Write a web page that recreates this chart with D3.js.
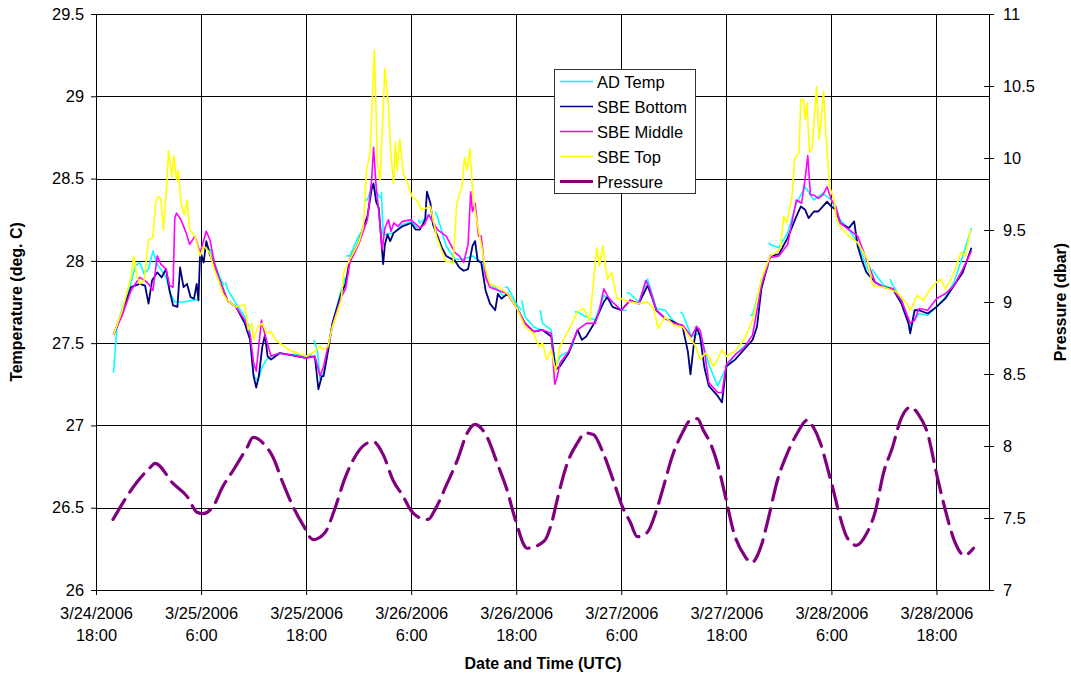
<!DOCTYPE html>
<html><head><meta charset="utf-8">
<script src="https://cdn.jsdelivr.net/npm/d3@7"></script>
<style>
body{margin:0;background:#fff;}
svg{display:block;font-family:Arial,"Liberation Sans",sans-serif;}
</style></head><body>
<svg id="c" width="1071" height="679"></svg>
<script>
// ---- data (hours after 3/24/2006 18:00 UTC) ----
const startTime = "2006-03-24T18:00:00Z";
const endHour = 102;
const xTickHours = [0,12,24,36,48,60,72,84,96];
const tempTicks = [26,26.5,27,27.5,28,28.5,29,29.5];
const pressureTicks = [7,7.5,8,8.5,9,9.5,10,10.5,11];
const seriesNames = ["AD Temp","SBE Bottom","SBE Middle","SBE Top","Pressure"];
const seriesColors = ["#00FFFF","#000080","#FF00FF","#FFFF00","#800080"];

const adTemp = [[2,27.32],[2.4,27.6],[3,27.71],[4,27.87],[4.5,27.97],[5,27.99],[5.5,27.92],[6,27.95],[6.5,28.06],[7,27.98],[8,27.9],[8.5,27.8],[9,27.75],[10,27.75],[11,27.76],[11.8,27.77],[11.9,null],[12.1,28.08],[13,28.07],[14,27.92],[14.6,27.85],[14.7,null],[14.8,27.87],[15,27.83],[16,27.74],[17,27.66],[17.5,27.6],[18,27.3],[18.5,27.27],[19,27.36],[19.5,27.4],[20,27.42],[21,27.44],[22,27.43],[23,27.43],[24,27.42],[24.7,27.43],[24.8,null],[24.9,27.52],[25.3,27.45],[25.6,27.28],[26,27.32],[27,27.62],[28,27.82],[28.5,27.9],[28.55,null],[28.6,28.03],[29,28.03],[30,28.15],[30.6,28.2],[30.65,null],[30.7,28.37],[31,28.37],[31.5,28.45],[32,28.42],[32.5,28.38],[32.55,null],[32.6,28.42],[32.8,28.16],[33,28.16],[34,28.17],[35,28.22],[36,28.24],[36.7,28.2],[36.8,null],[36.85,28.25],[37,28.23],[38,28.28],[38.6,28.22],[38.7,null],[38.75,28.3],[39,28.27],[40,28.09],[41,28.01],[42,28.01],[43,28.03],[43.8,28.0],[44,27.99],[45,27.86],[46,27.82],[46.6,27.78],[46.65,null],[46.7,27.84],[47,27.84],[48,27.74],[48.6,27.7],[48.62,null],[48.65,27.76],[49,27.66],[50,27.6],[50.7,27.58],[50.72,null],[50.75,27.7],[51,27.62],[52,27.58],[52.5,27.35],[53,27.42],[54,27.45],[54.6,27.5],[54.65,null],[54.7,27.69],[55,27.69],[56,27.66],[57,27.64],[58,27.79],[59,27.75],[60,27.7],[60.6,27.7],[60.62,null],[60.65,27.81],[61,27.8],[62,27.75],[63,27.89],[64,27.71],[65,27.7],[66,27.63],[66.7,27.6],[66.72,null],[66.75,27.69],[67,27.68],[68,27.54],[69,27.56],[70,27.37],[71,27.24],[72,27.35],[73,27.43],[74,27.48],[74.7,27.5],[74.72,null],[74.75,27.67],[75,27.67],[76,27.87],[76.8,27.97],[76.82,null],[76.85,28.11],[77,28.1],[78,28.08],[79,28.17],[80,28.35],[81,28.45],[82,28.37],[83,28.41],[84,28.37],[85,28.25],[86,28.19],[87,28.11],[88,27.97],[88.6,27.9],[88.62,null],[88.65,27.95],[89,27.92],[90,27.85],[90.6,27.84],[90.65,null],[90.7,27.89],[91,27.85],[92,27.77],[93,27.6],[94,27.68],[95,27.67],[96,27.72],[97,27.78],[98,27.87],[99,28.03],[100,28.2]];

const sbeBottom = [[2,27.55],[3,27.69],[4,27.84],[5,27.86],[5.6,27.85],[6,27.74],[6.4,27.88],[7,27.93],[7.5,27.9],[8,27.95],[8.4,27.82],[8.8,27.73],[9.3,27.72],[9.6,27.96],[10,27.84],[10.4,27.86],[10.8,27.78],[11.2,27.77],[11.5,27.86],[11.7,27.76],[11.9,28.06],[12.3,27.99],[12.6,28.12],[13,28.04],[13.5,27.98],[14,27.9],[15,27.76],[16,27.72],[16.5,27.67],[17,27.62],[17.6,27.52],[18,27.3],[18.3,27.23],[18.6,27.3],[19,27.48],[19.3,27.55],[19.6,27.42],[20,27.4],[21,27.44],[22,27.43],[23,27.42],[24,27.41],[25,27.42],[25.4,27.22],[25.8,27.3],[26,27.3],[26.5,27.45],[27,27.62],[28,27.8],[28.5,27.86],[29,28.01],[30,28.11],[30.5,28.2],[31,28.27],[31.5,28.44],[31.7,28.47],[32,28.36],[32.3,28.32],[32.8,27.98],[33,28.1],[33.3,28.16],[33.6,28.12],[34,28.17],[35,28.21],[36,28.23],[36.5,28.19],[37,28.19],[37.6,28.25],[37.8,28.42],[38.2,28.35],[38.5,28.22],[39,28.15],[39.5,28.08],[40,28.03],[41,28.0],[41.5,27.96],[42,27.94],[42.5,27.95],[43,28.09],[43.3,28.12],[43.6,28.0],[44,27.99],[44.5,27.82],[45,27.74],[45.6,27.7],[45.9,27.8],[46.3,27.77],[47,27.8],[48,27.72],[49,27.62],[50,27.57],[51,27.58],[51.5,27.56],[52,27.54],[52.5,27.34],[53,27.36],[54,27.44],[55,27.58],[55.5,27.52],[56,27.54],[57,27.63],[58,27.75],[58.4,27.78],[59,27.72],[60,27.7],[61,27.76],[62,27.74],[63,27.85],[63.5,27.78],[64,27.7],[65,27.65],[66,27.63],[67,27.6],[67.6,27.45],[67.9,27.31],[68.3,27.5],[68.6,27.6],[69,27.54],[69.5,27.35],[70,27.24],[71,27.18],[71.5,27.14],[72,27.36],[73,27.4],[74,27.46],[75,27.52],[75.5,27.6],[76,27.83],[77,28.03],[78,28.04],[79,28.14],[80,28.27],[80.5,28.33],[81,28.31],[81.4,28.26],[82,28.3],[82.5,28.3],[83,28.33],[83.5,28.36],[84,28.33],[84.5,28.31],[85,28.23],[86,28.2],[86.6,28.24],[87,28.09],[87.5,28.0],[88,27.93],[89,27.87],[90,27.84],[91,27.83],[92,27.74],[92.8,27.62],[93,27.56],[93.5,27.7],[94,27.7],[95,27.68],[96,27.72],[97,27.77],[98,27.85],[99,27.93],[100,28.08]];

const sbeMiddle = [[2,27.55],[3,27.67],[4,27.82],[5,27.9],[5.6,27.88],[6,27.86],[6.5,27.82],[7,28.03],[7.4,27.98],[8,27.95],[8.4,27.85],[8.8,27.84],[9.0,28.26],[9.2,28.29],[9.7,28.25],[10.3,28.17],[10.7,28.1],[11.3,28.15],[11.9,28.05],[12.6,28.18],[13,28.13],[13.6,27.97],[14,27.9],[15,27.76],[16,27.72],[17,27.64],[17.6,27.55],[18,27.38],[18.3,27.33],[18.9,27.64],[19.3,27.55],[20,27.42],[21,27.44],[22,27.43],[23,27.42],[24,27.41],[25,27.42],[25.6,27.3],[26,27.36],[27,27.6],[28,27.78],[28.5,27.83],[29,27.99],[30,28.1],[31,28.25],[31.5,28.5],[31.7,28.69],[32,28.45],[32.3,28.3],[32.7,28.07],[33,28.2],[33.4,28.25],[33.7,28.18],[34,28.23],[34.5,28.21],[35,28.24],[36,28.25],[37,28.2],[37.5,28.22],[38,28.28],[39,28.19],[40,28.15],[40.5,28.1],[41,28.05],[41.5,28.03],[42,27.99],[42.5,28.1],[42.8,28.42],[43,28.3],[43.3,28.35],[43.7,28.15],[44,28.15],[44.5,27.9],[45,27.84],[46,27.82],[47,27.8],[48,27.72],[49,27.62],[50,27.57],[51,27.58],[52,27.56],[52.4,27.25],[52.7,27.3],[53,27.38],[54,27.45],[55,27.58],[56,27.62],[57,27.62],[57.5,27.7],[58,27.83],[58.5,27.78],[59,27.75],[60,27.7],[61,27.76],[62,27.74],[62.8,27.88],[63.2,27.84],[64,27.7],[65,27.65],[66,27.62],[67,27.61],[68,27.54],[68.6,27.6],[69,27.58],[69.5,27.45],[70,27.26],[71,27.2],[71.5,27.2],[72,27.37],[73,27.43],[74,27.47],[75,27.55],[76,27.85],[77,28.02],[78,28.03],[79,28.1],[80,28.37],[80.6,28.35],[81,28.5],[81.3,28.64],[81.6,28.4],[82,28.4],[82.5,28.38],[83,28.4],[83.5,28.45],[84,28.37],[84.5,28.33],[85,28.23],[86,28.19],[87,28.15],[88,28.01],[89,27.87],[90,27.84],[91,27.83],[92,27.76],[93,27.62],[93.5,27.64],[94,27.71],[95,27.7],[96,27.77],[97,27.8],[98,27.85],[99,27.95],[100,28.06]];

const sbeTop = [[2,27.55],[3,27.7],[4,27.9],[4.3,28.03],[4.7,27.9],[5,27.86],[5.5,27.88],[6,28.13],[6.5,28.14],[6.8,28.35],[7.1,28.39],[7.4,28.38],[7.7,28.19],[8.0,28.4],[8.3,28.67],[8.65,28.51],[8.9,28.64],[9.2,28.49],[9.4,28.55],[9.7,28.35],[10.1,28.28],[10.4,28.37],[10.7,28.19],[11.3,28.15],[11.9,28.03],[12.3,28.09],[13,28.05],[13.5,27.95],[14,27.88],[14.5,27.8],[15,27.76],[16,27.72],[16.6,27.73],[17,27.73],[17.4,27.58],[17.8,27.62],[18,27.52],[18.5,27.6],[19,27.62],[19.5,27.56],[20,27.57],[20.5,27.52],[21,27.5],[22,27.46],[23,27.44],[24,27.42],[25,27.45],[25.5,27.48],[26,27.46],[26.5,27.48],[27,27.6],[28,27.76],[28.3,27.93],[29,28.01],[30,28.11],[30.55,28.21],[30.9,28.55],[31.3,28.65],[31.8,29.28],[32.15,28.59],[32.45,28.49],[33.0,29.17],[33.4,28.94],[33.7,28.63],[34.0,28.47],[34.2,28.72],[34.4,28.55],[34.7,28.74],[35.1,28.53],[35.6,28.47],[36.1,28.39],[36.6,28.37],[37.2,28.31],[38.2,28.33],[38.9,28.15],[39.9,28.0],[40.8,27.99],[41.2,28.35],[41.8,28.45],[42.1,28.63],[42.4,28.55],[42.7,28.68],[43.05,28.39],[43.4,28.27],[43.9,28.13],[44.5,27.95],[45,27.86],[46,27.84],[47,27.8],[48,27.72],[49,27.6],[50,27.56],[50.6,27.48],[51,27.5],[51.5,27.4],[52,27.46],[52.5,27.33],[53,27.48],[54,27.58],[55,27.69],[55.7,27.71],[56.4,27.64],[57.2,28.08],[57.5,27.97],[57.9,28.09],[58.4,27.89],[58.9,27.93],[59.5,27.77],[60,27.77],[61,27.75],[62,27.74],[63,27.75],[63.7,27.71],[64.2,27.59],[65,27.66],[66,27.61],[67,27.6],[68,27.52],[68.5,27.48],[69,27.4],[69.6,27.44],[70,27.42],[70.5,27.36],[71,27.4],[71.5,27.46],[72,27.42],[73,27.45],[74,27.52],[75,27.64],[76,27.89],[77,28.03],[77.7,28.05],[78.2,28.08],[78.55,28.27],[78.9,28.23],[79.5,28.39],[79.8,28.62],[80.3,28.66],[80.5,28.98],[80.8,28.98],[81,28.86],[81.2,28.96],[81.5,28.66],[81.8,28.68],[82.3,29.06],[82.6,28.74],[82.8,28.84],[83.1,29.03],[83.4,28.74],[83.8,28.45],[84.3,28.37],[84.6,28.25],[85,28.21],[86,28.15],[87,28.11],[88.1,28.01],[88.7,27.85],[90,27.84],[91.5,27.81],[92.6,27.74],[93,27.7],[93.8,27.79],[94.5,27.76],[95.3,27.83],[96,27.87],[96.5,27.89],[97,27.83],[97.8,27.9],[98.8,28.05],[99.3,28.03],[99.9,28.19]];

const pressure = [[1.94,7.49],[4.69,7.75],[6.17,7.85],[6.74,7.88],[8.8,7.74],[10.4,7.65],[11.54,7.54],[12.23,7.53],[13.37,7.58],[14.5,7.72],[15.66,7.83],[17.26,7.99],[17.94,8.06],[19.09,8.02],[20.23,7.92],[21.37,7.74],[22.5,7.58],[23.66,7.45],[24.8,7.35],[26.17,7.4],[27.2,7.55],[28.46,7.78],[30.97,8.02],[31.66,8.03],[32.8,7.94],[33.94,7.76],[35.09,7.65],[35.89,7.56],[37.03,7.5],[37.94,7.49],[38.74,7.56],[40.11,7.74],[41.26,7.9],[42.4,8.09],[43.31,8.15],[43.89,8.13],[44.69,8.06],[45.83,7.88],[46.97,7.69],[47.89,7.49],[49.26,7.29],[51.2,7.34],[52.11,7.48],[52.69,7.63],[53.83,7.88],[54.97,8.02],[55.89,8.09],[56.8,8.08],[57.94,7.95],[59.09,7.76],[60.11,7.58],[61.03,7.47],[61.83,7.37],[62.97,7.4],[64,7.55],[64.69,7.69],[65.94,7.95],[66.97,8.09],[67.89,8.18],[68.69,8.19],[69.37,8.11],[70.17,8.02],[70.97,7.88],[71.89,7.65],[72.8,7.41],[74.06,7.24],[74.86,7.19],[76,7.31],[76.69,7.47],[77.83,7.76],[78.97,7.95],[80.11,8.09],[81.26,8.18],[81.94,8.13],[82.74,8.02],[83.54,7.85],[84.23,7.69],[84.8,7.55],[85.83,7.36],[86.86,7.31],[88,7.39],[89.03,7.55],[89.94,7.81],[90.97,7.99],[91.89,8.18],[93.03,8.27],[93.94,8.22],[94.97,8.09],[96.11,7.78],[96.91,7.58],[98.06,7.34],[99.2,7.24],[100.23,7.29]];

// ---- drawing ----
const t0 = Date.parse(startTime);
const toDate = h => new Date(t0 + h * 3600e3);
const L = 96, R = 989, T = 14, B = 590;
const svg = d3.select("#c");
const x = d3.scaleUtc().domain([toDate(0), toDate(endHour)]).range([L, R]);
const y = d3.scaleLinear().domain([26, 29.5]).range([B, T]);
const y2 = d3.scaleLinear().domain([7, 11]).range([B, T]);
const FS = 16.4;

// gridlines
const grid = svg.append("g").attr("shape-rendering","crispEdges");
grid.selectAll(".hg").data(tempTicks).join("line")
  .attr("x1", L).attr("x2", R).attr("y1", d => Math.round(y(d))+0.5).attr("y2", d => Math.round(y(d))+0.5)
  .attr("stroke", "#000").attr("stroke-width", 1);
grid.selectAll(".vg").data(xTickHours).join("line")
  .attr("x1", d => Math.round(x(toDate(d)))+0.5).attr("x2", d => Math.round(x(toDate(d)))+0.5)
  .attr("y1", T).attr("y2", B).attr("stroke", "#000").attr("stroke-width", 1);

// axes
const fmtDate = d3.utcFormat("%-m/%-d/%Y"), fmtTime = d3.utcFormat("%-H:%M");
const xAxis = svg.append("g").attr("transform", `translate(0,${B})`)
  .call(d3.axisBottom(x).tickValues(xTickHours.map(toDate)).tickSize(5).tickSizeOuter(0).tickFormat(""));
xAxis.selectAll(".tick").each(function(d){
  const g = d3.select(this);
  g.append("text").attr("y", 29).attr("fill","#000").attr("font-size",FS).attr("text-anchor","middle").text(fmtDate(d));
  g.append("text").attr("y", 51).attr("fill","#000").attr("font-size",FS).attr("text-anchor","middle").text(fmtTime(d));
});
const yAxis = svg.append("g").attr("transform", `translate(${L},0)`)
  .call(d3.axisLeft(y).tickValues(tempTicks).tickSize(5).tickSizeOuter(0).tickPadding(7).tickFormat(d3.format("")));
const yAxis2 = svg.append("g").attr("transform", `translate(${R},0)`)
  .call(d3.axisRight(y2).tickValues(pressureTicks).tickSize(5).tickSizeOuter(0).tickPadding(9).tickFormat(d3.format("")));
yAxis2.selectAll(".tick line").attr("x1", -5);
[xAxis, yAxis, yAxis2].forEach(a => {
  a.selectAll(".domain").attr("stroke","#000");
  a.selectAll(".tick line").attr("stroke","#000");
  a.selectAll("text").attr("font-size", FS).attr("font-family","Arial,'Liberation Sans',sans-serif").attr("fill","#000");
});
svg.append("line").attr("x1",L).attr("x2",R).attr("y1",T+0.5).attr("y2",T+0.5).attr("stroke","#000");

// titles
svg.append("text").attr("x", 543).attr("y", 669).attr("text-anchor","middle").attr("font-weight","bold").attr("font-size",16).text("Date and Time (UTC)");
svg.append("text").attr("transform","translate(22,302) rotate(-90)").attr("text-anchor","middle").attr("font-weight","bold").attr("font-size",16).text("Temperature (deg. C)");
svg.append("text").attr("transform","translate(1066,302) rotate(-90)").attr("text-anchor","middle").attr("font-weight","bold").attr("font-size",16).text("Pressure (dbar)");

// series
const plot = svg.append("g");
const tempSeries = [adTemp, sbeBottom, sbeMiddle, sbeTop];
const tLine = d3.line().defined(d => d[1] !== null).x(d => x(toDate(d[0]))).y(d => y(d[1]));
tempSeries.forEach((s, i) => {
  plot.append("path").datum(s).attr("d", tLine).attr("fill","none")
    .attr("stroke", seriesColors[i]).attr("stroke-width", i === 1 ? 1.8 : 1.6).attr("stroke-linejoin","round");
});
const pLine = d3.line().curve(d3.curveMonotoneX).x(d => x(toDate(d[0]))).y(d => y2(d[1]));
plot.append("path").datum(pressure).attr("d", pLine).attr("fill","none")
  .attr("stroke", seriesColors[4]).attr("stroke-width", 3.2).attr("stroke-dasharray","23,9").attr("stroke-linecap","round");

// legend
const lg = svg.append("g").attr("transform","translate(554,69)");
lg.append("rect").attr("x",0.5).attr("y",0.5).attr("width",141).attr("height",124).attr("fill","#fff").attr("stroke","#333");
seriesNames.forEach((n, i) => {
  const yy = 12.5 + i * 25;
  lg.append("line").attr("x1",6).attr("x2",39).attr("y1",yy).attr("y2",yy)
    .attr("stroke", seriesColors[i]).attr("stroke-width", i === 4 ? 3.2 : 1.6);
  lg.append("text").attr("x",43).attr("y",yy+6).attr("font-size",16.5).attr("fill","#000").text(n);
});
</script>
</body></html>
